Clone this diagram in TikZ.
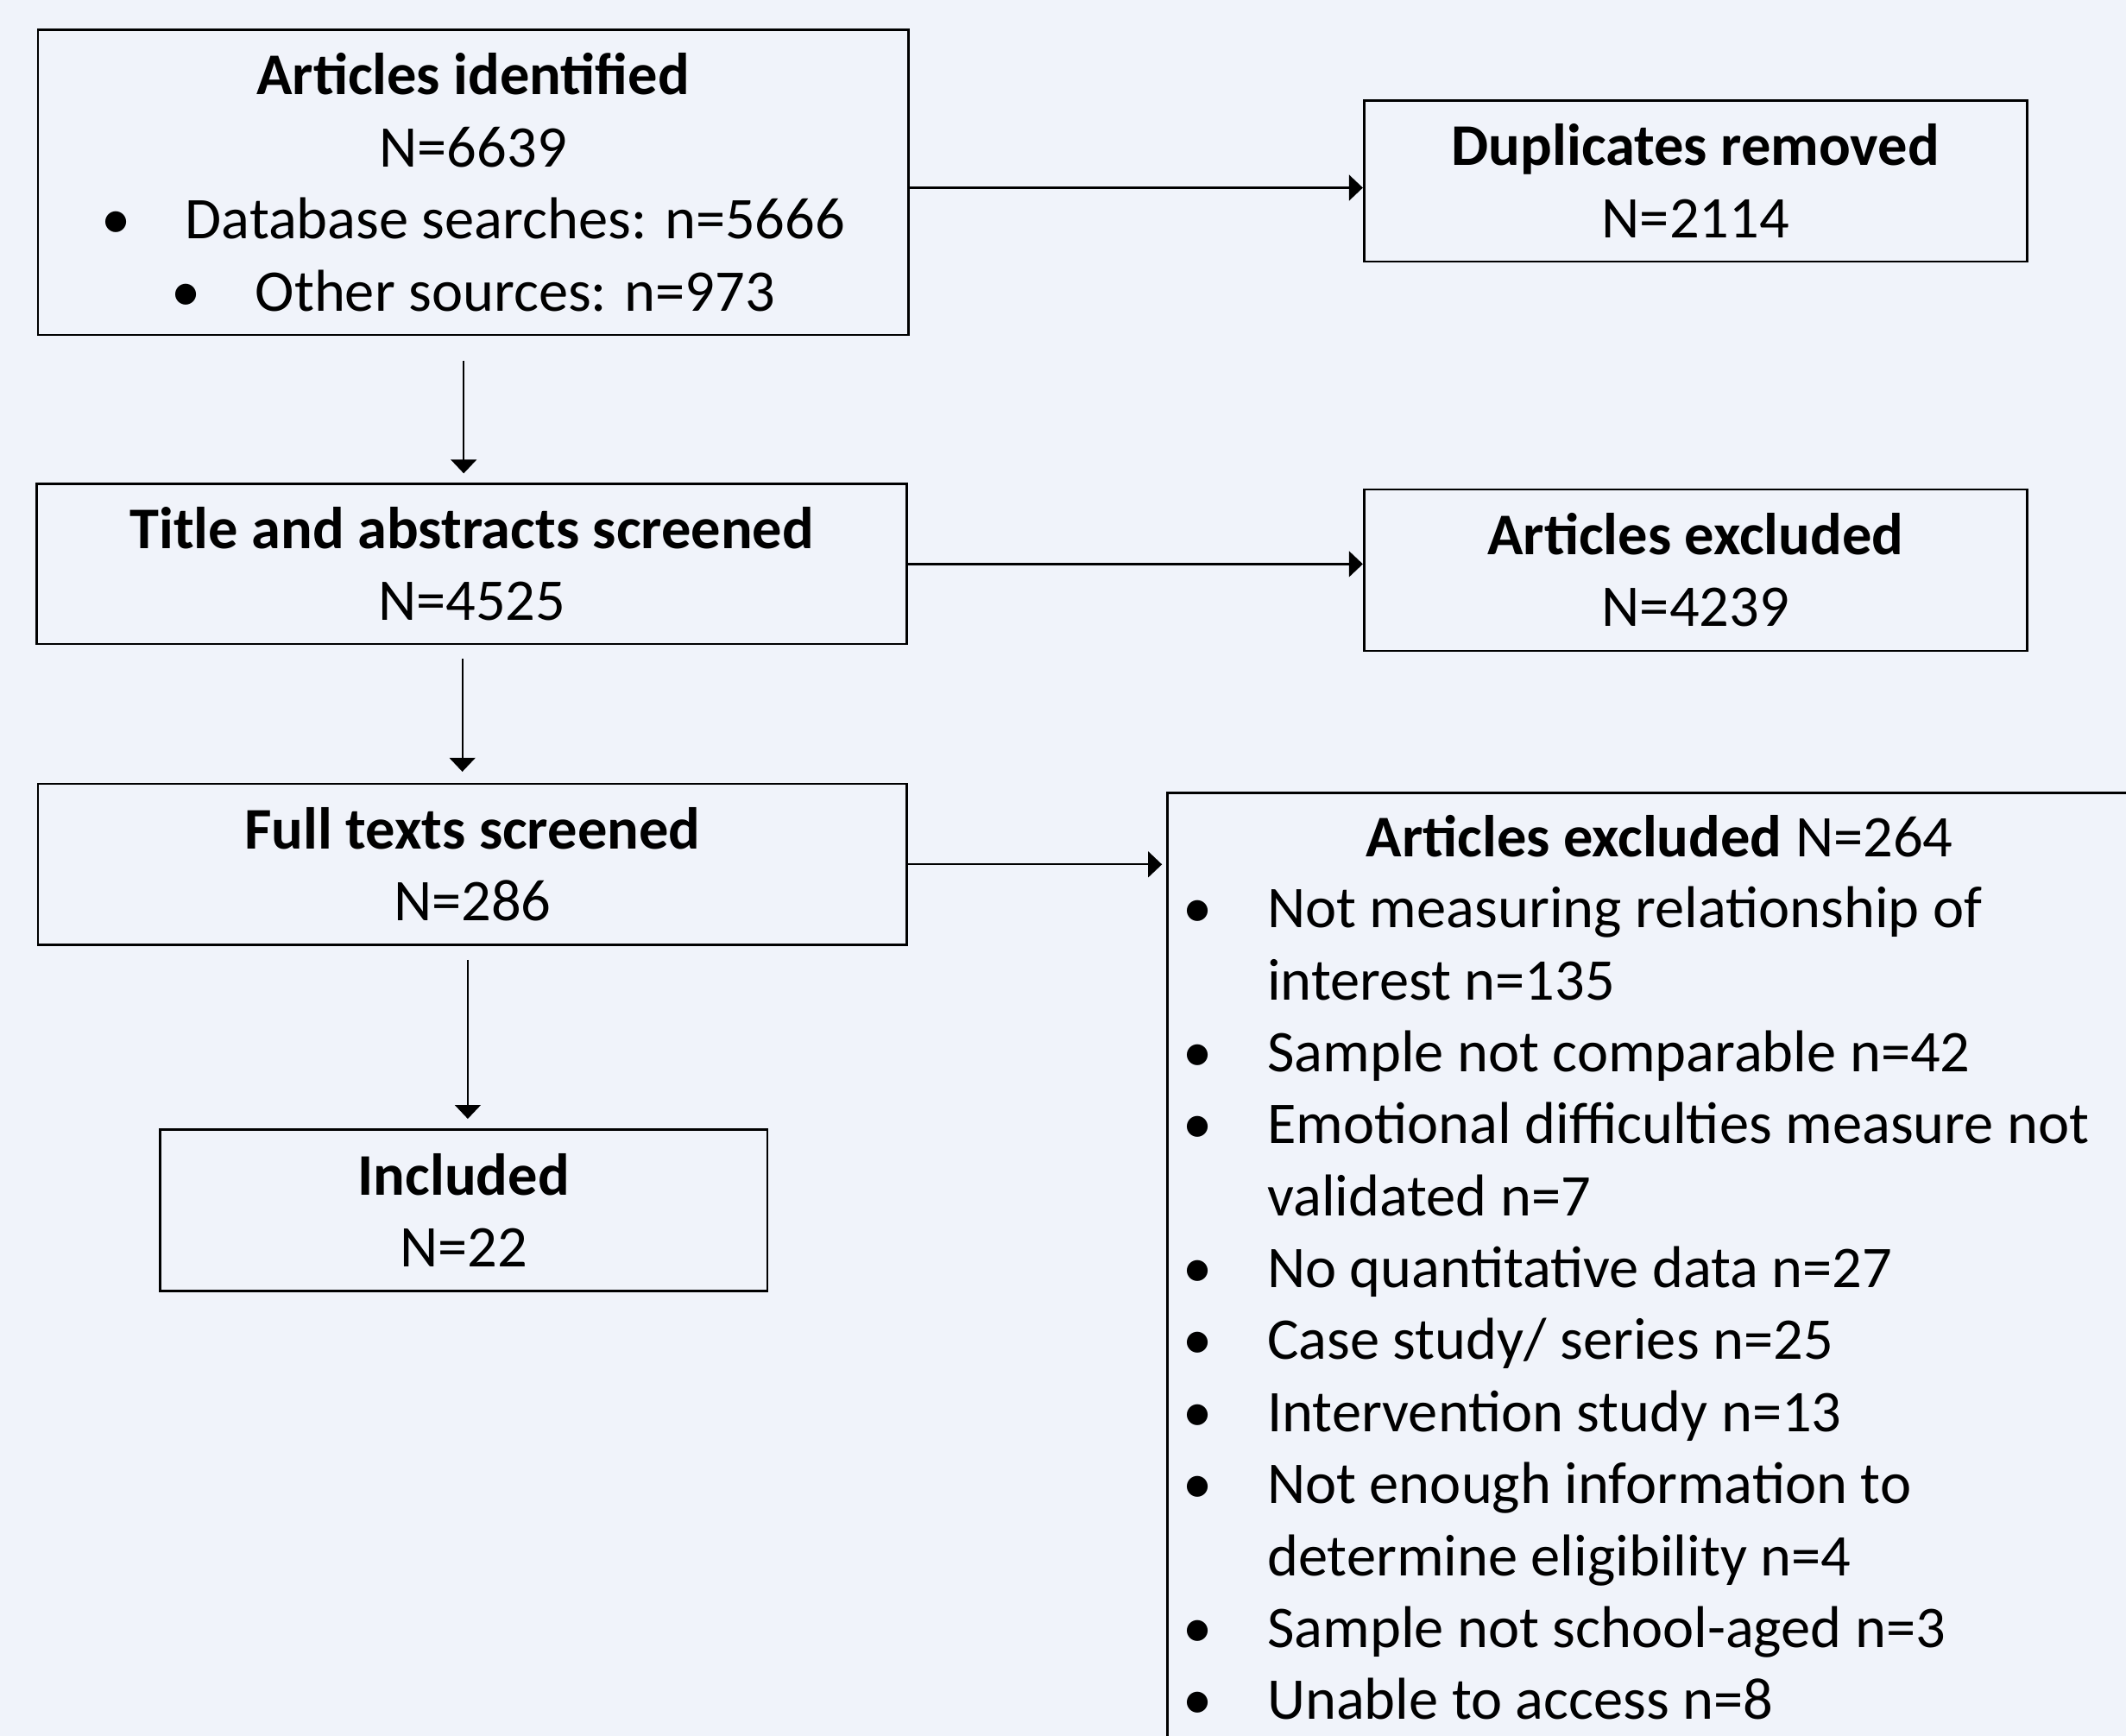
\documentclass[tikz,border=0pt]{standalone}
\usepackage{fontspec}
\setmainfont{Carlito}
\usepackage{xcolor}
\definecolor{pagebg}{RGB}{240,243,250}
\usetikzlibrary{calc,positioning,arrows.meta}
\tikzset{
  box/.style={rectangle, draw=black, line width=0.5pt, align=center, inner sep=0pt, font=\fontsize{12.4}{15.1}\selectfont},
  list/.style={rectangle, align=left, inner sep=0pt, font=\fontsize{12.4}{15.1}\selectfont},
  line/.style={draw, thin, -{Triangle[length=2.9pt,width=5.4pt]}},
}
\newcommand{\bul}{\makebox[0.62cm][l]{\textbullet}}
\newcommand{\nobul}{\hspace*{0.62cm}}

\begin{document}
\begin{tikzpicture}
  \useasboundingbox (0,0) rectangle (15.68,12.80);
  \fill[pagebg] (0,0) rectangle (15.68,12.80);
  \clip (0,0) rectangle (15.68,12.80);

  %left column
  \node[box, minimum width=6.42cm, minimum height=2.25cm] (ident) at (3.49,11.455)
    {\textbf{Articles identified}\\N=6639\\\bul Database searches: n=5666\\\bul Other sources: n=973};
  \node[box, minimum width=6.42cm, minimum height=1.18cm] (titabs) at (3.48,8.64)
    {\textbf{Title and abstracts screened}\\N=4525};
  \node[box, minimum width=6.41cm, minimum height=1.19cm] (fulltxt) at (3.485,6.425)
    {\textbf{Full texts screened}\\N=286};
  \node[box, minimum width=4.48cm, minimum height=1.19cm] (incl) at (3.42,3.875)
    {\textbf{Included}\\N=22};

  %right column
  \node[box, minimum width=4.89cm, minimum height=1.19cm] (dup) at (12.505,11.465)
    {\textbf{Duplicates removed}\\N=2114};
  \node[box, minimum width=4.89cm, minimum height=1.19cm] (excl1) at (12.505,8.595)
    {\textbf{Articles excluded}\\N=4239};
  \node[box, anchor=north west, minimum width=7.28cm, minimum height=7.6cm] (excl2) at (8.60,6.96) {};
  \node[list, anchor=base] (excl2title) at (12.24,6.48) {\textbf{Articles excluded} N=264};
  % base = last line
  \node[list, anchor=base west] (reasons) at (8.72,0.12)
    {\bul Not measuring relationship of\\
     \nobul interest n=135\\
     \bul Sample not comparable n=42\\
     \bul Emotional difficulties measure not\\
     \nobul validated n=7\\
     \bul No quantitative data n=27\\
     \bul Case study/ series n=25\\
     \bul Intervention study n=13\\
     \bul Not enough information to\\
     \nobul determine eligibility n=4\\
     \bul Sample not school-aged n=3\\
     \bul Unable to access n=8};

  %arrows
  \draw[line] ([yshift=-0.04cm]ident.east) -- ([yshift=-0.04cm]ident.east -| dup.west);
  \draw[line] (titabs.east) -- (titabs.east -| excl1.west);
  \draw[line, shorten >=0.03cm] (fulltxt.east) -- (fulltxt.east -| excl2.west);
  \draw[line, shorten <=0.18cm, shorten >=0.07cm] ([xshift=-0.07cm]ident.south) -- ([xshift=-0.07cm]ident.south |- titabs.north);
  \draw[line, shorten <=0.10cm, shorten >=0.08cm] ([xshift=-0.07cm]titabs.south) -- ([xshift=-0.07cm]titabs.south |- fulltxt.north);
  \draw[line, shorten <=0.10cm, shorten >=0.07cm] ([xshift=-0.035cm]fulltxt.south) -- ([xshift=-0.035cm]fulltxt.south |- incl.north);
\end{tikzpicture}
\end{document}
